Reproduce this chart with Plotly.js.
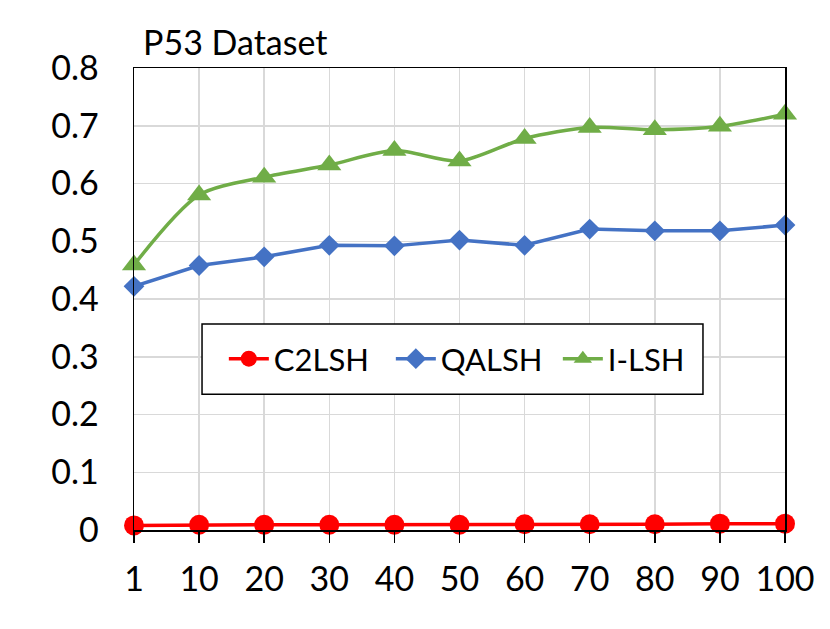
<!DOCTYPE html>
<html>
<head>
<meta charset="utf-8">
<script src="https://cdn.plot.ly/plotly-3.0.1.min.js"></script>
<style>html,body{margin:0;padding:0;background:#fff;}#chart{width:830px;height:629px;}</style>
</head>
<body>
<div id="chart"></div>
<script>
const categories = ["1","10","20","30","40","50","60","70","80","90","100"];
const c2lsh = [0.008,0.009,0.009,0.009,0.009,0.009,0.010,0.010,0.010,0.011,0.011];
const qalsh = [0.422,0.458,0.473,0.493,0.492,0.502,0.493,0.521,0.518,0.518,0.528];
const ilsh  = [0.459,0.580,0.611,0.632,0.657,0.639,0.678,0.697,0.693,0.699,0.720];
const seriesNames = ["C2LSH","QALSH","I-LSH"];
const yTicks = [0,0.1,0.2,0.3,0.4,0.5,0.6,0.7,0.8];

const FONT = "Lato, 'Open Sans', sans-serif";
const FS = 34;

const traces = [
  {x: categories, y: c2lsh, name: seriesNames[0], type: "scatter", mode: "lines+markers",
   line: {color: "#ff0000", width: 3.5}, marker: {symbol: "circle", size: 20, color: "#ff0000"}, cliponaxis: false},
  {x: categories, y: qalsh, name: seriesNames[1], type: "scatter", mode: "lines+markers",
   line: {color: "#4472c4", width: 3.5}, marker: {symbol: "diamond", size: 16, color: "#4472c4"}, cliponaxis: false},
  {x: categories, y: ilsh, name: seriesNames[2], type: "scatter", mode: "lines+markers",
   line: {color: "#70ad47", width: 3.5, shape: "spline", smoothing: 0.8}, marker: {symbol: "triangle-up", size: 21, color: "#70ad47"}, cliponaxis: false}
];

const layout = {
  width: 830, height: 629,
  margin: {l: 134, r: 45, t: 68, b: 99},
  paper_bgcolor: "#fff", plot_bgcolor: "#fff",
  font: {family: FONT, size: FS, color: "#000"},
  showlegend: true,
  legend: {orientation: "h", x: 0.138, y: 0.370, xanchor: "left", yanchor: "middle",
           borderwidth: 0, bgcolor: "rgba(0,0,0,0)", entrywidth: 112,
           font: {family: FONT, size: FS - 3, color: "#000"}, itemwidth: 40, tracegroupgap: 0},
  shapes: [{type: "rect", xref: "paper", yref: "paper", x0: 0.1045, x1: 0.874, y0: 0.294, y1: 0.446,
            line: {color: "#000", width: 1.5}, fillcolor: "#fff", layer: "above"}],
  xaxis: {type: "category", range: [0, 10], showgrid: true, gridcolor: "#d9d9d9", gridwidth: 1.5,
          showline: true, linecolor: "#000", linewidth: 1.5, mirror: true,
          ticks: "outside", ticklen: 11, tickwidth: 1.5, tickcolor: "#000",
          ticklabelstandoff: 8, tickfont: {family: FONT, size: FS, color: "#000"}, zeroline: false, fixedrange: true},
  yaxis: {range: [0, 0.8], tickvals: yTicks, ticktext: yTicks.map(v => v === 0 ? "0" : String(v)),
          showgrid: true, gridcolor: "#d9d9d9", gridwidth: 1.5,
          showline: true, linecolor: "#000", linewidth: 1.5, mirror: true, ticks: "",
          ticklabelstandoff: 27, tickfont: {family: FONT, size: FS, color: "#000"}, zeroline: false, fixedrange: true},
  annotations: [{text: "P53 Dataset", xref: "paper", yref: "paper", x: 0.011, y: 1, xanchor: "left", yanchor: "bottom",
                 yshift: 4, showarrow: false, font: {family: FONT, size: FS, color: "#000"}}]
};

Plotly.newPlot("chart", traces, layout, {displayModeBar: false, staticPlot: true});
</script>
</body>
</html>
